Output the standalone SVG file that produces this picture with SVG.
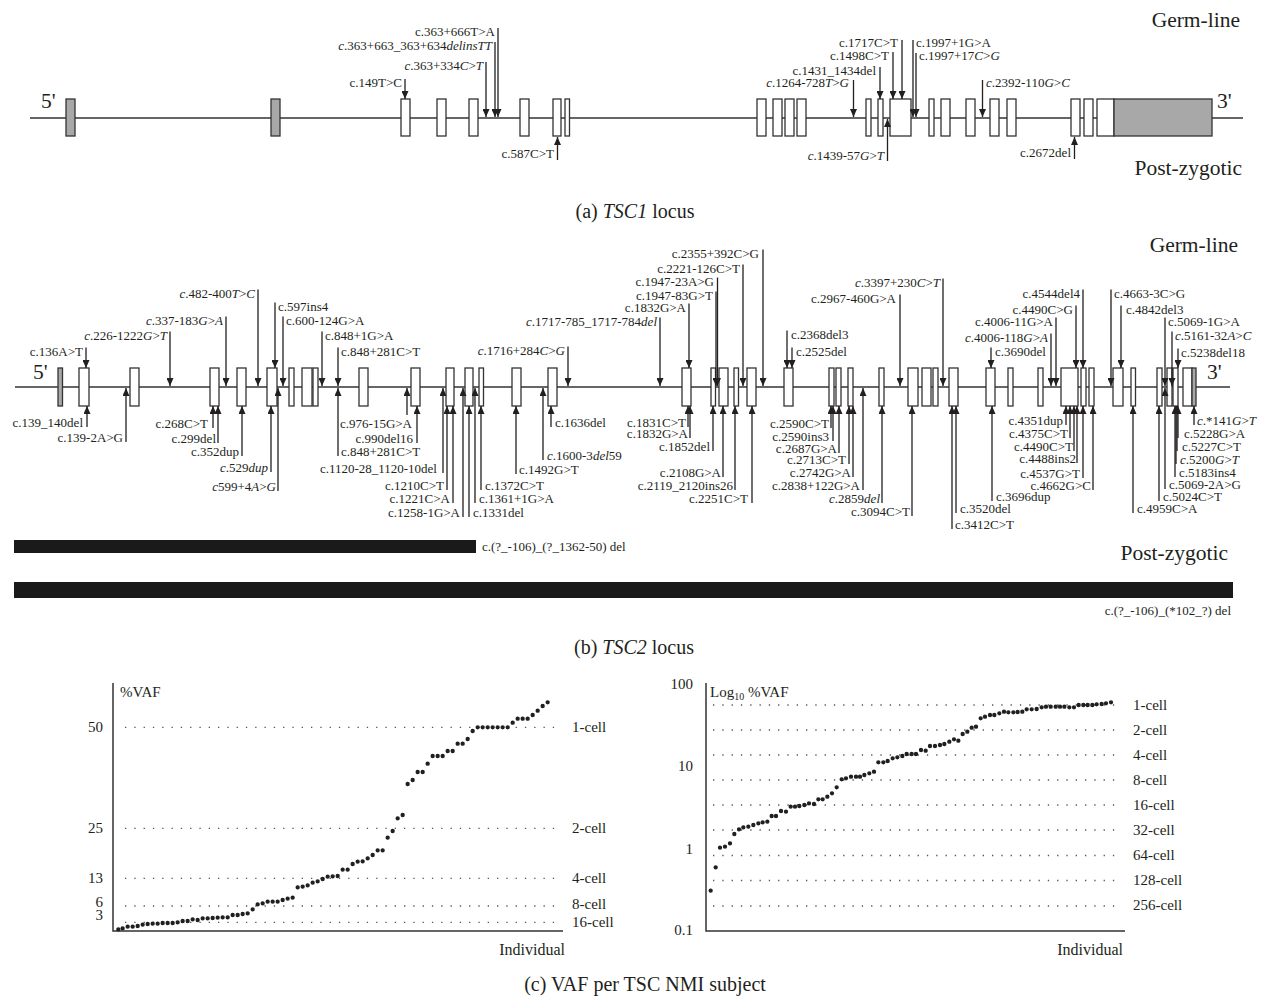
<svg xmlns="http://www.w3.org/2000/svg" width="1265" height="1000" viewBox="0 0 1265 1000">
<style>
text{font-family:"Liberation Serif","DejaVu Serif",serif;fill:#231f20}
.t{font-size:13px}
.e{text-anchor:end}
.i{font-style:italic}
.big{font-size:21.5px}
.cap{font-size:20px;text-anchor:middle}
.ax{font-size:15px}
.ex{fill:#fff;stroke:#333;stroke-width:1.3}
.gx{fill:#a8a8a8;stroke:#333;stroke-width:1.3}
.a{stroke:#231f20;stroke-width:1.3;fill:none;marker-end:url(#ah)}
.ln{stroke:#333;stroke-width:1.5;fill:none}
.dot{stroke:#555;stroke-width:1.3;stroke-dasharray:1.3 8;fill:none}
.pts{stroke:#231f20;stroke-width:13;stroke-linecap:round;fill:none}
</style>
<defs>
<marker id="ah" viewBox="0 0 8 7" refX="8" refY="3.5" markerWidth="8" markerHeight="7" orient="auto" markerUnits="userSpaceOnUse"><path d="M0,0L8,3.5L0,7z" fill="#231f20"/></marker>
</defs>
<rect width="1265" height="1000" fill="#fff"/>

<!-- ===== (a) TSC1 ===== -->
<g id="tsc1">
<path class="ln" d="M30 118H1243"/>
<text class="big" x="41" y="108">5'</text>
<text class="big" x="1217" y="108">3'</text>
<text class="big e" x="1240" y="27">Germ-line</text>
<text class="big e" x="1242" y="175">Post-zygotic</text>
<g id="tsc1-exons">
<rect class="gx" x="66" y="99" width="9" height="37"/>
<rect class="gx" x="271" y="99" width="9" height="37"/>
<rect class="ex" x="401" y="99" width="9" height="37"/>
<rect class="ex" x="437" y="99" width="9" height="37"/>
<rect class="ex" x="469" y="99" width="9" height="37"/>
<rect class="ex" x="520" y="99" width="9" height="37"/>
<rect class="ex" x="553" y="99" width="8" height="37"/>
<rect class="ex" x="565" y="99" width="4.5" height="37"/>
<rect class="ex" x="757" y="99" width="9" height="37"/>
<rect class="ex" x="773" y="99" width="9" height="37"/>
<rect class="ex" x="785" y="99" width="9" height="37"/>
<rect class="ex" x="797" y="99" width="9" height="37"/>
<rect class="ex" x="866" y="99" width="5" height="37"/>
<rect class="ex" x="878" y="99" width="5" height="37"/>
<rect class="ex" x="890" y="99" width="21" height="37"/>
<rect class="ex" x="929" y="99" width="5" height="37"/>
<rect class="ex" x="941" y="99" width="9" height="37"/>
<rect class="ex" x="966" y="99" width="9" height="37"/>
<rect class="ex" x="990" y="99" width="9" height="37"/>
<rect class="ex" x="1007" y="99" width="9" height="37"/>
<rect class="ex" x="1071" y="99" width="9" height="37"/>
<rect class="ex" x="1084" y="99" width="9" height="37"/>
<rect class="ex" x="1097" y="99" width="17" height="37"/>
<rect class="gx" x="1114" y="99" width="98" height="37"/>
</g>
<g id="tsc1-labels">
<text class="t e" x="402" y="87">c.149T&gt;C</text>
<text class="t e" x="483" y="70"><tspan class="i">c</tspan>.363+334<tspan class="i">C</tspan>&gt;<tspan class="i">T</tspan></text>
<text class="t e" x="492" y="50"><tspan class="i">c</tspan>.363+663_363+634<tspan class="i">delinsTT</tspan></text>
<text class="t e" x="495" y="36">c.363+666T&gt;A</text>
<text class="t e" x="554" y="158">c.587C&gt;T</text>
<text class="t e" x="849" y="87"><tspan class="i">c</tspan>.1264-728<tspan class="i">T</tspan>&gt;<tspan class="i">G</tspan></text>
<text class="t e" x="876" y="74.5">c.1431_1434del</text>
<text class="t e" x="889" y="59.5">c.1498C&gt;T</text>
<text class="t e" x="898" y="46.5">c.1717C&gt;T</text>
<text class="t" x="916" y="46.5">c.1997+1G&gt;A</text>
<text class="t" x="919" y="59.5">c.1997+17<tspan class="i">C</tspan>&gt;<tspan class="i">G</tspan></text>
<text class="t" x="986" y="87"><tspan class="i">c</tspan>.2392-110<tspan class="i">G</tspan>&gt;<tspan class="i">C</tspan></text>
<text class="t e" x="884" y="159.5"><tspan class="i">c</tspan>.1439-57<tspan class="i">G</tspan>&gt;<tspan class="i">T</tspan></text>
<text class="t e" x="1071" y="157">c.2672del</text>
</g>
<g id="tsc1-connectors">
<path class="a" d="M405 79V99"/>
<path class="a" d="M486 62V117"/>
<path class="a" d="M495 42V117"/>
<path class="a" d="M498 28V117"/>
<path class="a" d="M557.5 160V137"/>
<path class="a" d="M853.5 80V117"/>
<path class="a" d="M880 67V99"/>
<path class="a" d="M893 52V99"/>
<path class="a" d="M902 40V99"/>
<path class="a" d="M913 40V117"/>
<path class="a" d="M916 53V117"/>
<path class="a" d="M982.5 80V117"/>
<path class="a" d="M887.5 161V119"/>
<path class="a" d="M1074.5 159V137"/>
</g>
<text class="cap" x="635" y="218">(a) <tspan class="i">TSC1</tspan> locus</text>
</g>

<!-- ===== (b) TSC2 ===== -->
<g id="tsc2">
<path class="ln" d="M15 387H1230"/>
<text class="big" x="33" y="379">5'</text>
<text class="big" x="1207" y="379">3'</text>
<text class="big e" x="1238" y="252">Germ-line</text>
<text class="big e" x="1228" y="560">Post-zygotic</text>
<g id="tsc2-exons">
<rect class="gx" x="58" y="368" width="4.5" height="38"/>
<rect class="ex" x="79" y="368" width="10" height="38"/>
<rect class="ex" x="130" y="368" width="9" height="38"/>
<rect class="ex" x="210" y="368" width="9" height="38"/>
<rect class="ex" x="237" y="368" width="9" height="38"/>
<rect class="ex" x="267" y="368" width="10" height="38"/>
<rect class="ex" x="289" y="368" width="5" height="38"/>
<rect class="ex" x="302" y="368" width="10" height="38"/>
<rect class="ex" x="313" y="368" width="5" height="38"/>
<rect class="ex" x="359" y="368" width="9" height="38"/>
<rect class="ex" x="411" y="368" width="9" height="38"/>
<rect class="ex" x="446" y="368" width="8" height="38"/>
<rect class="ex" x="465" y="368" width="8" height="38"/>
<rect class="ex" x="479" y="368" width="4.5" height="38"/>
<rect class="ex" x="512" y="368" width="9" height="38"/>
<rect class="ex" x="548" y="368" width="9" height="38"/>
<rect class="ex" x="682" y="368" width="9" height="38"/>
<rect class="ex" x="711" y="368" width="4.5" height="38"/>
<rect class="ex" x="719" y="368" width="9" height="38"/>
<rect class="ex" x="734" y="368" width="4.5" height="38"/>
<rect class="ex" x="747" y="368" width="9" height="38"/>
<rect class="ex" x="784" y="368" width="9" height="38"/>
<rect class="ex" x="829" y="368" width="5" height="38"/>
<rect class="ex" x="836" y="368" width="5" height="38"/>
<rect class="ex" x="848" y="368" width="5" height="38"/>
<rect class="ex" x="879" y="368" width="5" height="38"/>
<rect class="ex" x="908" y="368" width="10" height="38"/>
<rect class="ex" x="922" y="368" width="9" height="38"/>
<rect class="ex" x="933" y="368" width="5" height="38"/>
<rect class="ex" x="949" y="368" width="9" height="38"/>
<rect class="ex" x="986" y="368" width="9" height="38"/>
<rect class="ex" x="1008" y="368" width="5" height="38"/>
<rect class="ex" x="1038" y="368" width="5" height="38"/>
<rect class="ex" x="1061" y="368" width="17" height="38"/>
<rect class="ex" x="1081" y="368" width="5" height="38"/>
<rect class="ex" x="1089" y="368" width="5" height="38"/>
<rect class="ex" x="1113" y="368" width="10" height="38"/>
<rect class="ex" x="1131" y="368" width="4.5" height="38"/>
<rect class="ex" x="1157" y="368" width="5" height="38"/>
<rect class="ex" x="1167" y="368" width="5" height="38"/>
<rect class="ex" x="1173" y="368" width="5" height="38"/>
<rect class="ex" x="1183" y="368" width="9" height="38"/>
<rect class="gx" x="1192" y="368" width="4" height="38"/>
</g>
<g id="tsc2-germline-labels">
<text class="t e" x="83" y="355.5">c.136A&gt;T</text>
<text class="t e" x="167" y="339.5"><tspan class="i">c</tspan>.226-1222<tspan class="i">G</tspan>&gt;<tspan class="i">T</tspan></text>
<text class="t e" x="223" y="324.5"><tspan class="i">c</tspan>.337-183<tspan class="i">G</tspan>&gt;<tspan class="i">A</tspan></text>
<text class="t e" x="255" y="297.5"><tspan class="i">c</tspan>.482-400<tspan class="i">T</tspan>&gt;<tspan class="i">C</tspan></text>
<text class="t" x="278" y="310.5">c.597ins4</text>
<text class="t" x="286" y="324.5">c.600-124G&gt;A</text>
<text class="t" x="325" y="339.5">c.848+1G&gt;A</text>
<text class="t" x="341" y="355.5">c.848+281C&gt;T</text>
<text class="t e" x="565" y="354.5"><tspan class="i">c</tspan>.1716+284<tspan class="i">C</tspan>&gt;<tspan class="i">G</tspan></text>
<text class="t e" x="657" y="325.5"><tspan class="i">c</tspan>.1717-785_1717-784<tspan class="i">del</tspan></text>
<text class="t e" x="686" y="311.5">c.1832G&gt;A</text>
<text class="t e" x="713" y="299.5">c.1947-83G&gt;T</text>
<text class="t e" x="714" y="285.5">c.1947-23A&gt;G</text>
<text class="t e" x="740" y="272.5">c.2221-126C&gt;T</text>
<text class="t e" x="759" y="257.5">c.2355+392C&gt;G</text>
<text class="t" x="791" y="338.5">c.2368del3</text>
<text class="t" x="796" y="355.5">c.2525del</text>
<text class="t e" x="896" y="302.5">c.2967-460G&gt;A</text>
<text class="t e" x="940" y="286.5"><tspan class="i">c</tspan>.3397+230<tspan class="i">C</tspan>&gt;<tspan class="i">T</tspan></text>
<text class="t" x="995" y="355.5">c.3690del</text>
<text class="t e" x="1048" y="341.5"><tspan class="i">c</tspan>.4006-118<tspan class="i">G</tspan>&gt;<tspan class="i">A</tspan></text>
<text class="t e" x="1053" y="325.5">c.4006-11G&gt;A</text>
<text class="t e" x="1073" y="313.5">c.4490C&gt;G</text>
<text class="t e" x="1080" y="297.5">c.4544del4</text>
<text class="t" x="1114" y="297.5">c.4663-3C&gt;G</text>
<text class="t" x="1126" y="313.5">c.4842del3</text>
<text class="t" x="1168" y="325.5">c.5069-1G&gt;A</text>
<text class="t" x="1175" y="339.5"><tspan class="i">c</tspan>.5161-32<tspan class="i">A</tspan>&gt;<tspan class="i">C</tspan></text>
<text class="t" x="1181" y="356.5">c.5238del18</text>
</g>
<g id="tsc2-lower-labels">
<text class="t e" x="83" y="427">c.139_140del</text>
<text class="t e" x="123" y="442">c.139-2A&gt;G</text>
<text class="t e" x="208" y="428">c.268C&gt;T</text>
<text class="t e" x="216" y="443">c.299del</text>
<text class="t e" x="239" y="456">c.352dup</text>
<text class="t e" x="268" y="472"><tspan class="i">c</tspan>.529<tspan class="i">dup</tspan></text>
<text class="t e" x="276" y="491"><tspan class="i">c</tspan>599+4<tspan class="i">A</tspan>&gt;<tspan class="i">G</tspan></text>
<text class="t" x="341" y="456">c.848+281C&gt;T</text>
<text class="t e" x="412" y="428">c.976-15G&gt;A</text>
<text class="t e" x="413" y="443">c.990del16</text>
<text class="t e" x="437" y="473">c.1120-28_1120-10del</text>
<text class="t e" x="444" y="490">c.1210C&gt;T</text>
<text class="t e" x="450" y="503">c.1221C&gt;A</text>
<text class="t e" x="460" y="517">c.1258-1G&gt;A</text>
<text class="t" x="473" y="517">c.1331del</text>
<text class="t" x="479" y="503">c.1361+1G&gt;A</text>
<text class="t" x="485" y="490">c.1372C&gt;T</text>
<text class="t" x="519" y="474">c.1492G&gt;T</text>
<text class="t" x="547" y="460"><tspan class="i">c</tspan>.1600-3<tspan class="i">del</tspan>59</text>
<text class="t" x="555" y="427">c.1636del</text>
<text class="t e" x="686" y="427">c.1831C&gt;T</text>
<text class="t e" x="688" y="438">c.1832G&gt;A</text>
<text class="t e" x="710" y="451">c.1852del</text>
<text class="t e" x="721" y="477">c.2108G&gt;A</text>
<text class="t e" x="733" y="490">c.2119_2120ins26</text>
<text class="t e" x="748" y="503">c.2251C&gt;T</text>
<text class="t e" x="829" y="428">c.2590C&gt;T</text>
<text class="t e" x="829" y="441">c.2590ins3</text>
<text class="t e" x="837" y="453">c.2687G&gt;A</text>
<text class="t e" x="846" y="464">c.2713C&gt;T</text>
<text class="t e" x="851" y="477">c.2742G&gt;A</text>
<text class="t e" x="860" y="490">c.2838+122G&gt;A</text>
<text class="t e" x="880" y="503"><tspan class="i">c</tspan>.2859<tspan class="i">del</tspan></text>
<text class="t e" x="910" y="516">c.3094C&gt;T</text>
<text class="t" x="955" y="529">c.3412C&gt;T</text>
<text class="t" x="960" y="513">c.3520del</text>
<text class="t" x="996" y="501">c.3696dup</text>
<text class="t e" x="1063" y="425">c.4351dup</text>
<text class="t e" x="1068" y="438">c.4375C&gt;T</text>
<text class="t e" x="1073" y="451">c.4490C&gt;T</text>
<text class="t e" x="1076" y="463">c.4488ins2</text>
<text class="t e" x="1080" y="478">c.4537G&gt;T</text>
<text class="t e" x="1091" y="490">c.4662G&gt;C</text>
<text class="t" x="1137" y="513">c.4959C&gt;A</text>
<text class="t" x="1163" y="501">c.5024C&gt;T</text>
<text class="t" x="1169" y="489">c.5069-2A&gt;G</text>
<text class="t" x="1179" y="477">c.5183ins4</text>
<text class="t" x="1180" y="464"><tspan class="i">c</tspan>.5200<tspan class="i">G</tspan>&gt;<tspan class="i">T</tspan></text>
<text class="t" x="1182" y="451">c.5227C&gt;T</text>
<text class="t" x="1184" y="438">c.5228G&gt;A</text>
<text class="t" x="1197" y="425"><tspan class="i">c</tspan>.*141<tspan class="i">G</tspan>&gt;<tspan class="i">T</tspan></text>
</g>
<g id="tsc2-connectors">
<path class="a" d="M86 347.5V368"/>
<path class="a" d="M170 331.5V386"/>
<path class="a" d="M226 316.5V386"/>
<path class="a" d="M258 289.5V386"/>
<path class="a" d="M275 302.5V368"/>
<path class="a" d="M283 316.5V386"/>
<path class="a" d="M322 331.5V386"/>
<path class="a" d="M338 347.5V386"/>
<path class="a" d="M568 346.5V386"/>
<path class="a" d="M660 317.5V386"/>
<path class="a" d="M689 303.5V368"/>
<path class="a" d="M716 291.5V386"/>
<path class="a" d="M717.5 277.5V386"/>
<path class="a" d="M743 264.5V386"/>
<path class="a" d="M763 249.5V386"/>
<path class="a" d="M787 330.5V368"/>
<path class="a" d="M792 347.5V368"/>
<path class="a" d="M900 294.5V386"/>
<path class="a" d="M943 278.5V386"/>
<path class="a" d="M991 347.5V368"/>
<path class="a" d="M1051 333.5V386"/>
<path class="a" d="M1056 317.5V386"/>
<path class="a" d="M1076 305.5V368"/>
<path class="a" d="M1083 289.5V368"/>
<path class="a" d="M1111 289.5V386"/>
<path class="a" d="M1121 305.5V368"/>
<path class="a" d="M1165 317.5V386"/>
<path class="a" d="M1172 331.5V386"/>
<path class="a" d="M1178 348.5V368"/>

<path class="a" d="M87 427V406"/>
<path class="a" d="M126 442V388"/>
<path class="a" d="M213 428V406"/>
<path class="a" d="M218 443V406"/>
<path class="a" d="M242 456V406"/>
<path class="a" d="M271 472V406"/>
<path class="a" d="M278 491V388"/>
<path class="a" d="M338 456V388"/>
<path class="a" d="M407 415V388"/>
<path class="a" d="M417 443V406"/>
<path class="a" d="M443 473V388"/>
<path class="a" d="M447 490V406"/>
<path class="a" d="M453 503V406"/>
<path class="a" d="M463 517V388"/>
<path class="a" d="M469 517V406"/>
<path class="a" d="M475 503V388"/>
<path class="a" d="M481 490V406"/>
<path class="a" d="M516 474V406"/>
<path class="a" d="M543 460V388"/>
<path class="a" d="M551 427V406"/>
<path class="a" d="M688 427V406"/>
<path class="a" d="M690 438V406"/>
<path class="a" d="M713 451V406"/>
<path class="a" d="M723 477V406"/>
<path class="a" d="M735 490V406"/>
<path class="a" d="M752 503V406"/>
<path class="a" d="M831 428V406"/>
<path class="a" d="M833 441V406"/>
<path class="a" d="M839 453V406"/>
<path class="a" d="M849 464V406"/>
<path class="a" d="M853 477V406"/>
<path class="a" d="M863 490V388"/>
<path class="a" d="M882 503V406"/>
<path class="a" d="M912 516V406"/>
<path class="a" d="M952 529V406"/>
<path class="a" d="M956 513V406"/>
<path class="a" d="M992 501V406"/>
<path class="a" d="M1066 425V406"/>
<path class="a" d="M1070 438V406"/>
<path class="a" d="M1074 451V406"/>
<path class="a" d="M1077 463V406"/>
<path class="a" d="M1083 478V406"/>
<path class="a" d="M1093 490V406"/>
<path class="a" d="M1133 513V406"/>
<path class="a" d="M1159 501V406"/>
<path class="a" d="M1165 489V388"/>
<path class="a" d="M1175 477V406"/>
<path class="a" d="M1176 464V406"/>
<path class="a" d="M1177 451V406"/>
<path class="a" d="M1178 438V406"/>
<path class="a" d="M1194 425V406"/>
</g>
<g id="tsc2-deletions">
<rect x="14" y="540" width="462" height="13" fill="#1a1a1a"/>
<text class="t" x="482" y="551">c.(?_-106)_(?_1362-50) del</text>
<rect x="14" y="582" width="1219" height="16" fill="#1a1a1a"/>
<text class="t e" x="1231" y="615">c.(?_-106)_(*102_?) del</text>
</g>
<text class="cap" x="634" y="654">(b) <tspan class="i">TSC2</tspan> locus</text>
</g>

<!-- ===== (c) VAF charts ===== -->
<g id="chart-linear">
<path class="dot" d="M125 727.3H560M125 828.3H560M125 878.3H560M125 906H560M125 922.3H560"/>
<path class="ln" d="M113 683V931H563"/>
<text class="ax" x="120" y="697">%VAF</text>
<text class="ax e" x="103" y="732">50</text>
<text class="ax e" x="103" y="833">25</text>
<text class="ax e" x="103" y="883">13</text>
<text class="ax e" x="103" y="907">6</text>
<text class="ax e" x="103" y="920">3</text>
<text class="ax" x="572" y="732">1-cell</text>
<text class="ax" x="572" y="833">2-cell</text>
<text class="ax" x="572" y="883">4-cell</text>
<text class="ax" x="572" y="909">8-cell</text>
<text class="ax" x="572" y="927">16-cell</text>
<text class="ax e" x="565" y="955" style="font-size:16px">Individual</text>
<g transform="translate(60,670) scale(0.33333)">
<path class="pts" d="M175 778h0M188 775h0M203 770h0M218 770h0M233 768h0M248 764h0M263 762h0M278 761h0M293 761h0M308 759h0M323 759h0M338 759h0M353 757h0M368 753h0M383 753h0M398 748h0M413 750h0M428 745h0M443 745h0M458 744h0M473 743h0M488 742h0M503 742h0M518 735h0M533 735h0M548 732h0M563 730h0M578 718h0M593 703h0M608 700h0M623 695h0M638 695h0M653 695h0M668 690h0M683 686h0M698 683h0M713 652h0M728 650h0M743 646h0M758 638h0M773 634h0M788 627h0M803 620h0M818 619h0M833 618h0M848 599h0M863 599h0M878 582h0M893 575h0M908 574h0M923 565h0M938 555h0M953 541h0M968 541h0M983 503h0M998 483h0M1013 445h0M1028 435h0M1043 342h0M1058 330h0M1073 306h0M1088 306h0M1103 281h0M1118 258h0M1133 258h0M1148 258h0M1163 243h0M1178 243h0M1193 221h0M1208 221h0M1223 207h0M1238 183h0M1253 172h0M1268 172h0M1283 172h0M1298 172h0M1313 172h0M1328 172h0M1343 172h0M1358 158h0M1373 146h0M1388 146h0M1403 146h0M1418 135h0M1433 122h0M1448 108h0M1463 97h0"/>
</g>
</g>

<g id="chart-log">
<path class="dot" d="M713 705H1115M713 730H1115M713 755H1115M713 780H1115M713 805H1115M713 830H1115M713 855.5H1115M713 880.5H1115M713 906H1115"/>
<path class="ln" d="M706 683V931H1125"/>
<text class="ax" x="710" y="697">Log<tspan font-size="10" dy="3">10</tspan><tspan dy="-3"> %VAF</tspan></text>
<text class="ax e" x="693" y="689">100</text>
<text class="ax e" x="693" y="771">10</text>
<text class="ax e" x="693" y="854">1</text>
<text class="ax e" x="693" y="935">0.1</text>
<text class="ax" x="1133" y="710">1-cell</text>
<text class="ax" x="1133" y="735">2-cell</text>
<text class="ax" x="1133" y="760">4-cell</text>
<text class="ax" x="1133" y="785">8-cell</text>
<text class="ax" x="1133" y="810">16-cell</text>
<text class="ax" x="1133" y="835">32-cell</text>
<text class="ax" x="1133" y="860">64-cell</text>
<text class="ax" x="1133" y="885">128-cell</text>
<text class="ax" x="1133" y="910">256-cell</text>
<text class="ax e" x="1123" y="955" style="font-size:16px">Individual</text>
<g transform="translate(660,670) scale(0.33333)">
<path class="pts" d="M152 662h0M167 592h0M180 533h0M195 530h0M210 520h0M223 492h0M237 478h0M250 472h0M265 470h0M280 465h0M295 460h0M308 457h0M322 455h0M335 438h0M348 438h0M363 423h0M378 425h0M392 410h0M405 410h0M418 408h0M433 405h0M447 400h0M462 402h0M475 388h0M488 388h0M502 380h0M516 370h0M530 352h0M545 328h0M558 325h0M573 320h0M588 320h0M600 320h0M613 315h0M628 310h0M642 305h0M655 277h0M670 277h0M683 273h0M698 265h0M712 262h0M727 258h0M740 252h0M755 252h0M768 252h0M783 240h0M797 242h0M810 228h0M825 228h0M840 225h0M853 222h0M868 215h0M882 208h0M895 212h0M908 192h0M922 185h0M935 173h0M948 170h0M962 145h0M975 140h0M990 135h0M1003 135h0M1018 130h0M1032 125h0M1045 127h0M1060 127h0M1073 126h0M1087 125h0M1100 118h0M1115 118h0M1130 117h0M1145 112h0M1158 110h0M1172 110h0M1187 110h0M1200 110h0M1213 110h0M1228 112h0M1242 112h0M1256 105h0M1270 105h0M1283 105h0M1297 105h0M1310 103h0M1325 102h0M1338 100h0M1353 97h0"/>
</g>
</g>
<text class="cap" x="645" y="991">(c) VAF per TSC NMI subject</text>
</svg>
